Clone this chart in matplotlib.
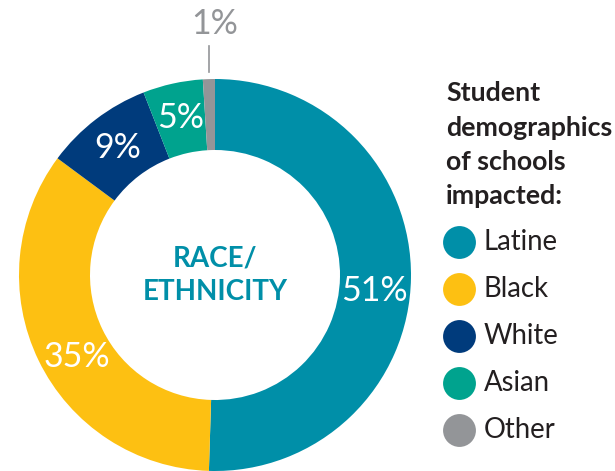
import numpy as np
import matplotlib.pyplot as plt

groups = ["Latine", "Black", "White", "Asian", "Other"]
shares = [51, 35, 9, 5, 1]
colors = ["#008FA8", "#FDC012", "#003B7C", "#00A38E", "#939598"]
pct_labels = ["51%", "35%", "9%", "5%", "1%"]

plt.rcParams['font.family'] = ['Lato', 'DejaVu Sans']

W, H = 615, 471
fig = plt.figure(figsize=(W / 100, H / 100), dpi=100)
ax = fig.add_axes([0, 0, 1, 1])

cx, cy = 215, H - 275
r_out, r_in = 196, 125

wedges, _ = ax.pie(shares, colors=colors, startangle=90, counterclock=False,
                   center=(cx, cy), radius=r_out, frame=True,
                   wedgeprops=dict(width=r_out - r_in, linewidth=0))
ax.set_xlim(0, W)
ax.set_ylim(0, H)
ax.set_aspect('equal')
ax.axis('off')

# labels inside the ring, nudged a little where the original sits off-centre
nudge = {"51%": -5, "35%": 5}
r_mid = (r_out + r_in) / 2
for w, lab in zip(wedges, pct_labels):
    ang = np.deg2rad((w.theta1 + w.theta2) / 2 + nudge.get(lab, 0))
    x = cx + r_mid * np.cos(ang)
    y = cy + r_mid * np.sin(ang)
    if lab == "1%":
        x0 = cx + r_out * np.cos(ang)
        ax.plot([x0, x0], [H - 72, H - 46], color="#939598", lw=1.2)
        ax.text(cx, H - 24, lab, ha='center', va='center', fontsize=24.5,
                color="#939598")
    else:
        ax.text(x, y, lab, ha='center', va='center', fontsize=24.5, color='white')

ax.text(cx, cy + 17, "RACE/", ha='center', va='center', fontsize=20,
        fontweight='bold', color="#008FA8")
ax.text(cx, cy - 17, "ETHNICITY", ha='center', va='center', fontsize=20,
        fontweight='bold', color="#008FA8")

# legend
title_lines = ["Student", "demographics", "of schools", "impacted:"]
for i, line in enumerate(title_lines):
    ax.text(446, H - 93 - i * 34.5, line, ha='left', va='center', fontsize=19.3,
            fontweight='bold', color="#231F20")
for i, (g, c) in enumerate(zip(groups, colors)):
    y = H - 242 - i * 47
    ax.scatter([459], [y], s=560, color=c, linewidths=0)
    ax.text(484, y, g, ha='left', va='center', fontsize=19.8, color="#231F20")

fig.savefig("out.png", dpi=100)
